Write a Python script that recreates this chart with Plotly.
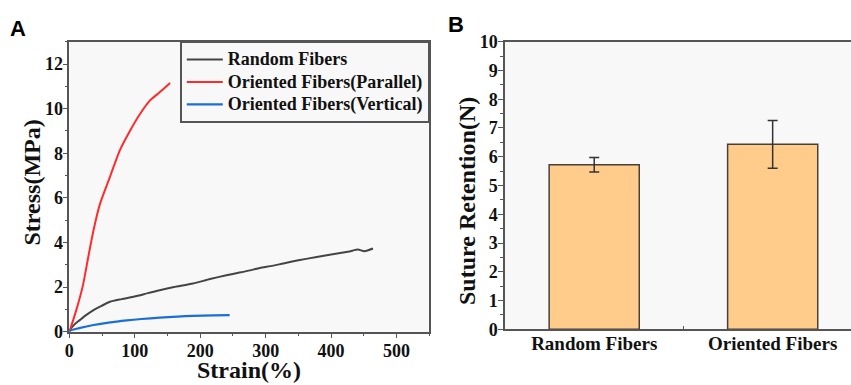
import plotly.graph_objects as go

# ---- Panel A data (stress-strain) ----
random_strain = [0, 1, 8, 16, 25, 37, 50, 62, 80, 103, 120, 138, 160, 189, 215, 240, 260, 276, 291, 310, 327, 350, 378, 400, 428, 441, 451, 464]
random_stress = [0, 0.08, 0.33, 0.52, 0.73, 0.97, 1.17, 1.34, 1.46, 1.6, 1.73, 1.86, 2.0, 2.16, 2.36, 2.53, 2.65, 2.75, 2.86, 2.95, 3.06, 3.2, 3.35, 3.46, 3.6, 3.68, 3.61, 3.73]

parallel_strain = [0, 1, 11, 21, 29, 37, 47, 62, 77, 93, 108, 123, 138, 154]
parallel_stress = [0, 0.08, 1.0, 2.1, 3.35, 4.55, 5.74, 6.93, 8.12, 9.02, 9.76, 10.36, 10.73, 11.15]

vertical_strain = [0, 1, 15, 37, 60, 88, 110, 138, 165, 189, 220, 245]
vertical_stress = [0, 0.05, 0.16, 0.30, 0.41, 0.51, 0.57, 0.63, 0.68, 0.71, 0.73, 0.74]

series_names = ["Random Fibers", "Oriented Fibers(Parallel)", "Oriented Fibers(Vertical)"]

# ---- Panel B data (suture retention) ----
categories = ["Random Fibers", "Oriented Fibers"]
retention = [5.72, 6.43]
retention_err = [0.25, 0.83]

serif = "Liberation Serif"
axis_col = "#555555"
bg = "#f8f8f8"


def leg(name):
    return "<span style='font-size:18px'>" + name + "</span>"


fig = go.Figure()
fig.add_trace(go.Scatter(x=random_strain, y=random_stress, mode="lines", name=leg(series_names[0]),
                         line=dict(color="#444444", width=2, shape="spline", smoothing=0.6), xaxis="x", yaxis="y"))
fig.add_trace(go.Scatter(x=parallel_strain, y=parallel_stress, mode="lines", name=leg(series_names[1]),
                         line=dict(color="#ff2b2b", width=2, shape="spline", smoothing=0.6), xaxis="x", yaxis="y"))
fig.add_trace(go.Scatter(x=vertical_strain, y=vertical_stress, mode="lines", name=leg(series_names[2]),
                         line=dict(color="#1a6fd6", width=2.2, shape="spline", smoothing=0.6), xaxis="x", yaxis="y"))

fig.add_trace(go.Bar(x=[0, 1], y=retention, width=0.505, showlegend=False,
                     marker=dict(color="#ffcc8c", line=dict(color="#4a3f36", width=1.5)),
                     error_y=dict(type="data", array=retention_err, color="#333333", thickness=1.5, width=5),
                     xaxis="x2", yaxis="y2"))

tickfont = dict(family=serif, size=18, color="#111111", weight="bold")
titlefont = dict(family=serif, size=24, color="#111111", weight="bold")

fig.update_layout(
    width=851, height=385,
    margin=dict(l=0, r=0, t=0, b=0),
    paper_bgcolor="white", plot_bgcolor=bg,
    xaxis=dict(domain=[69.3 / 851, 429.3 / 851], range=[0, 550], anchor="y", automargin=False,
               showline=True, linecolor=axis_col, linewidth=1.5, mirror=True,
               showgrid=False, zeroline=False,
               ticks="outside", ticklen=5, tickwidth=1.2, tickcolor=axis_col,
               tickvals=[0, 100, 200, 300, 400, 500], ticklabelstandoff=-3,
               minor=dict(ticks="outside", ticklen=3, tickwidth=1, tickcolor=axis_col, dtick=50, tick0=0),
               tickfont=tickfont),
    yaxis=dict(domain=[(385 - 331.7) / 385, (385 - 41.7) / 385], range=[0, 13], anchor="x", automargin=False,
               showline=True, linecolor=axis_col, linewidth=1.5, mirror=True,
               showgrid=False, zeroline=False,
               ticks="outside", ticklen=5, tickwidth=1.2, tickcolor=axis_col,
               tickvals=[0, 2, 4, 6, 8, 10, 12], ticklabelstandoff=-4,
               minor=dict(ticks="outside", ticklen=3, tickwidth=1, tickcolor=axis_col, dtick=1, tick0=0),
               tickfont=tickfont),
    xaxis2=dict(domain=[505 / 851, 1.0], range=[-0.5, 1.439], anchor="y2", automargin=False,
                showline=True, linecolor=axis_col, linewidth=1.5, mirror=True,
                showgrid=False, zeroline=False,
                tickvals=[0, 1], ticktext=categories, ticks="", ticklabelstandoff=-4,
                minor=dict(ticks="inside", ticklen=4, tickwidth=1.2, tickcolor=axis_col, tickvals=[0.5]),
                tickfont=dict(family=serif, size=19, color="#111111", weight="bold")),
    yaxis2=dict(domain=[(385 - 329.3) / 385, (385 - 41.7) / 385], range=[0, 10], anchor="x2", automargin=False,
                showline=True, linecolor=axis_col, linewidth=1.5, mirror=True,
                showgrid=False, zeroline=False,
                ticks="outside", ticklen=5, tickwidth=1.2, tickcolor=axis_col,
                tickvals=list(range(0, 11)), ticklabelstandoff=-3,
                minor=dict(ticks="outside", ticklen=3, tickwidth=1, tickcolor=axis_col, dtick=0.5, tick0=0),
                tickfont=tickfont),
    legend=dict(x=429.3 / 851, xanchor="right", y=(385 - 41.7) / 385, yanchor="top",
                bgcolor=bg, bordercolor=axis_col, borderwidth=1.5,
                font=dict(family=serif, size=15, color="#111111", weight="bold"),
                tracegroupgap=0, itemwidth=36),
    annotations=[
        dict(text="A", x=8 / 851, y=1 - 28 / 385, xref="paper", yref="paper", showarrow=False,
             xanchor="left", yanchor="middle", font=dict(family="Liberation Sans", size=22, color="black", weight="bold")),
        dict(text="B", x=446 / 851, y=1 - 24 / 385, xref="paper", yref="paper", showarrow=False,
             xanchor="left", yanchor="middle", font=dict(family="Liberation Sans", size=22, color="black", weight="bold")),
        dict(text="Strain(%)", x=249 / 851, y=0, xref="paper", yref="paper", showarrow=False,
             xanchor="center", yanchor="bottom", font=dict(family=serif, size=24, color="#111111", weight="bold")),
        dict(text="Stress(MPa)", x=31 / 851, y=1 - 182.5 / 385, xref="paper", yref="paper", showarrow=False,
             textangle=-90, xanchor="center", yanchor="middle", font=titlefont),
        dict(text="Suture Retention(N)", x=467 / 851, y=1 - 201 / 385, xref="paper", yref="paper", showarrow=False,
             textangle=-90, xanchor="center", yanchor="middle", font=titlefont),
    ],
)

fig.write_html("out.html", config={"displayModeBar": False},
               post_script="document.body.style.margin='0';document.body.style.overflow='hidden';")
